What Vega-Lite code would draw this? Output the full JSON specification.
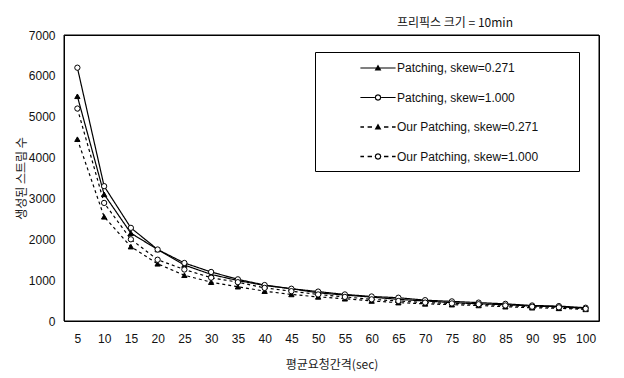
{
  "$schema": "https://vega.github.io/schema/vega-lite/v6.json",
  "width": 535,
  "height": 286,
  "autosize": "none",
  "padding": {"left": 64, "top": 35, "right": 25, "bottom": 57},
  "background": "white",
  "title": {
    "text": "프리픽스 크기 = 10min",
    "anchor": "end",
    "frame": "group",
    "dx": -86,
    "dy": 19,
    "offset": 13,
    "baseline": "middle",
    "font": "Noto Sans CJK KR",
    "fontSize": 12,
    "fontWeight": "normal",
    "color": "#111"
  },
  "config": {
    "view": {"stroke": "black", "strokeWidth": 1},
    "axis": {
      "labelFont": "Liberation Sans",
      "labelFontSize": 12,
      "labelColor": "#111",
      "titleFont": "Noto Sans CJK KR",
      "titleFontSize": 12,
      "titleFontWeight": "normal",
      "titleColor": "#222",
      "grid": false,
      "domain": false,
      "ticks": false
    }
  },
  "datasets": {
    "streams": [
      {"interval": 5, "series": "Patching, skew=0.271", "value": 5500},
      {"interval": 5, "series": "Patching, skew=1.000", "value": 6200},
      {"interval": 5, "series": "Our Patching, skew=0.271", "value": 4450},
      {"interval": 5, "series": "Our Patching, skew=1.000", "value": 5200},
      {"interval": 10, "series": "Patching, skew=0.271", "value": 3100},
      {"interval": 10, "series": "Patching, skew=1.000", "value": 3300},
      {"interval": 10, "series": "Our Patching, skew=0.271", "value": 2550},
      {"interval": 10, "series": "Our Patching, skew=1.000", "value": 2890},
      {"interval": 15, "series": "Patching, skew=0.271", "value": 2150},
      {"interval": 15, "series": "Patching, skew=1.000", "value": 2280},
      {"interval": 15, "series": "Our Patching, skew=0.271", "value": 1820},
      {"interval": 15, "series": "Our Patching, skew=1.000", "value": 2000},
      {"interval": 20, "series": "Patching, skew=0.271", "value": 1750},
      {"interval": 20, "series": "Patching, skew=1.000", "value": 1750},
      {"interval": 20, "series": "Our Patching, skew=0.271", "value": 1400},
      {"interval": 20, "series": "Our Patching, skew=1.000", "value": 1500},
      {"interval": 25, "series": "Patching, skew=0.271", "value": 1370},
      {"interval": 25, "series": "Patching, skew=1.000", "value": 1420},
      {"interval": 25, "series": "Our Patching, skew=0.271", "value": 1120},
      {"interval": 25, "series": "Our Patching, skew=1.000", "value": 1260},
      {"interval": 30, "series": "Patching, skew=0.271", "value": 1140},
      {"interval": 30, "series": "Patching, skew=1.000", "value": 1200},
      {"interval": 30, "series": "Our Patching, skew=0.271", "value": 950},
      {"interval": 30, "series": "Our Patching, skew=1.000", "value": 1060},
      {"interval": 35, "series": "Patching, skew=0.271", "value": 990},
      {"interval": 35, "series": "Patching, skew=1.000", "value": 1020},
      {"interval": 35, "series": "Our Patching, skew=0.271", "value": 840},
      {"interval": 35, "series": "Our Patching, skew=1.000", "value": 950},
      {"interval": 40, "series": "Patching, skew=0.271", "value": 870},
      {"interval": 40, "series": "Patching, skew=1.000", "value": 880},
      {"interval": 40, "series": "Our Patching, skew=0.271", "value": 730},
      {"interval": 40, "series": "Our Patching, skew=1.000", "value": 810},
      {"interval": 45, "series": "Patching, skew=0.271", "value": 790},
      {"interval": 45, "series": "Patching, skew=1.000", "value": 790},
      {"interval": 45, "series": "Our Patching, skew=0.271", "value": 650},
      {"interval": 45, "series": "Our Patching, skew=1.000", "value": 730},
      {"interval": 50, "series": "Patching, skew=0.271", "value": 690},
      {"interval": 50, "series": "Patching, skew=1.000", "value": 720},
      {"interval": 50, "series": "Our Patching, skew=0.271", "value": 590},
      {"interval": 50, "series": "Our Patching, skew=1.000", "value": 650},
      {"interval": 55, "series": "Patching, skew=0.271", "value": 635},
      {"interval": 55, "series": "Patching, skew=1.000", "value": 650},
      {"interval": 55, "series": "Our Patching, skew=0.271", "value": 545},
      {"interval": 55, "series": "Our Patching, skew=1.000", "value": 590},
      {"interval": 60, "series": "Patching, skew=0.271", "value": 585},
      {"interval": 60, "series": "Patching, skew=1.000", "value": 600},
      {"interval": 60, "series": "Our Patching, skew=0.271", "value": 490},
      {"interval": 60, "series": "Our Patching, skew=1.000", "value": 530},
      {"interval": 65, "series": "Patching, skew=0.271", "value": 530},
      {"interval": 65, "series": "Patching, skew=1.000", "value": 570},
      {"interval": 65, "series": "Our Patching, skew=0.271", "value": 450},
      {"interval": 65, "series": "Our Patching, skew=1.000", "value": 490},
      {"interval": 70, "series": "Patching, skew=0.271", "value": 490},
      {"interval": 70, "series": "Patching, skew=1.000", "value": 510},
      {"interval": 70, "series": "Our Patching, skew=0.271", "value": 420},
      {"interval": 70, "series": "Our Patching, skew=1.000", "value": 450},
      {"interval": 75, "series": "Patching, skew=0.271", "value": 450},
      {"interval": 75, "series": "Patching, skew=1.000", "value": 480},
      {"interval": 75, "series": "Our Patching, skew=0.271", "value": 400},
      {"interval": 75, "series": "Our Patching, skew=1.000", "value": 430},
      {"interval": 80, "series": "Patching, skew=0.271", "value": 420},
      {"interval": 80, "series": "Patching, skew=1.000", "value": 450},
      {"interval": 80, "series": "Our Patching, skew=0.271", "value": 380},
      {"interval": 80, "series": "Our Patching, skew=1.000", "value": 410},
      {"interval": 85, "series": "Patching, skew=0.271", "value": 400},
      {"interval": 85, "series": "Patching, skew=1.000", "value": 420},
      {"interval": 85, "series": "Our Patching, skew=0.271", "value": 350},
      {"interval": 85, "series": "Our Patching, skew=1.000", "value": 380},
      {"interval": 90, "series": "Patching, skew=0.271", "value": 365},
      {"interval": 90, "series": "Patching, skew=1.000", "value": 380},
      {"interval": 90, "series": "Our Patching, skew=0.271", "value": 325},
      {"interval": 90, "series": "Our Patching, skew=1.000", "value": 350},
      {"interval": 95, "series": "Patching, skew=0.271", "value": 350},
      {"interval": 95, "series": "Patching, skew=1.000", "value": 365},
      {"interval": 95, "series": "Our Patching, skew=0.271", "value": 310},
      {"interval": 95, "series": "Our Patching, skew=1.000", "value": 335},
      {"interval": 100, "series": "Patching, skew=0.271", "value": 310},
      {"interval": 100, "series": "Patching, skew=1.000", "value": 325},
      {"interval": 100, "series": "Our Patching, skew=0.271", "value": 285},
      {"interval": 100, "series": "Our Patching, skew=1.000", "value": 300}
    ]
  },
  "data": {"name": "streams"},
  "resolve": {"scale": {"shape": "independent", "fill": "independent"}},
  "layer": [
    {
      "data": {"values": [{"frame": "plot"}]},
      "mark": {"type": "rect", "filled": false, "stroke": "black", "strokeWidth": 1},
      "encoding": {}
    },
    {
      "mark": {"type": "line", "color": "black"},
      "encoding": {
        "x": {
          "field": "interval", "type": "ordinal",
          "scale": {"type": "point", "padding": 0.5},
          "axis": {"labelAngle": 0, "labelPadding": 12, "title": "평균요청간격(sec)", "titlePadding": 15}
        },
        "y": {
          "field": "value", "type": "quantitative",
          "scale": {"domain": [0, 7000], "nice": false},
          "axis": {"values": [0, 1000, 2000, 3000, 4000, 5000, 6000, 7000], "format": "d", "labelPadding": 9, "title": "생성된 스트림 수", "titlePadding": 0}
        },
        "detail": {"field": "series"},
        "strokeDash": {
          "field": "series", "type": "nominal", "legend": null,
          "scale": {
            "domain": ["Patching, skew=0.271", "Patching, skew=1.000", "Our Patching, skew=0.271", "Our Patching, skew=1.000"],
            "range": [[1, 0], [1, 0], [3, 3], [3, 3]]
          }
        },
        "strokeWidth": {
          "field": "series", "type": "nominal", "legend": null,
          "scale": {
            "domain": ["Patching, skew=0.271", "Patching, skew=1.000", "Our Patching, skew=0.271", "Our Patching, skew=1.000"],
            "range": [1.2, 1.2, 1.6, 1.6]
          }
        }
      }
    },
    {
      "mark": {"type": "point", "filled": true, "stroke": "black", "strokeWidth": 1, "size": 28, "opacity": 1},
      "encoding": {
        "x": {"field": "interval", "type": "ordinal"},
        "y": {"field": "value", "type": "quantitative"},
        "shape": {
          "field": "series", "type": "nominal", "legend": null,
          "scale": {
            "domain": ["Patching, skew=0.271", "Patching, skew=1.000", "Our Patching, skew=0.271", "Our Patching, skew=1.000"],
            "range": ["triangle-up", "circle", "triangle-up", "circle"]
          }
        },
        "fill": {
          "field": "series", "type": "nominal", "legend": null,
          "scale": {
            "domain": ["Patching, skew=0.271", "Patching, skew=1.000", "Our Patching, skew=0.271", "Our Patching, skew=1.000"],
            "range": ["black", "white", "black", "white"]
          }
        }
      }
    },
    {
      "mark": {"type": "point", "filled": true, "fill": "black", "strokeWidth": 0, "size": 256, "opacity": 0},
      "encoding": {
        "x": {"field": "interval", "type": "ordinal"},
        "y": {"field": "value", "type": "quantitative"},
        "shape": {
          "field": "series", "type": "nominal",
          "scale": {
            "domain": ["Patching, skew=0.271", "Patching, skew=1.000", "Our Patching, skew=0.271", "Our Patching, skew=1.000"],
            "range": [
              "M-2.2,-0.07H2.2V0.07H-2.2ZM0,-0.45L0.42,0.3H-0.42ZM24.1,0H24.11",
              "M-2.2,-0.07H-0.42V0.07H-2.2ZM0.42,-0.07H2.2V0.07H0.42ZM0.42,0L0.297,0.297L0,0.42L-0.297,0.297L-0.42,0L-0.297,-0.297L0,-0.42L0.297,-0.297ZM0.26,0L0.184,-0.184L0,-0.26L-0.184,-0.184L-0.26,0L-0.184,0.184L0,0.26L0.184,0.184ZM24.1,0H24.11",
              "M-2.2,-0.09H-1.75V0.09H-2.2ZM-1.3,-0.09H-0.75V0.09H-1.3ZM0.75,-0.09H1.3V0.09H0.75ZM1.75,-0.09H2.2V0.09H1.75ZM0,-0.45L0.42,0.3H-0.42ZM24.1,0H24.11",
              "M-2.2,-0.09H-1.75V0.09H-2.2ZM-1.3,-0.09H-0.75V0.09H-1.3ZM0.75,-0.09H1.3V0.09H0.75ZM1.75,-0.09H2.2V0.09H1.75ZM0.42,0L0.297,0.297L0,0.42L-0.297,0.297L-0.42,0L-0.297,-0.297L0,-0.42L0.297,-0.297ZM0.26,0L0.184,-0.184L0,-0.26L-0.184,-0.184L-0.26,0L-0.184,0.184L0,0.26L0.184,0.184ZM24.1,0H24.11"
            ]
          },
          "legend": {
            "orient": "none",
            "legendX": 251,
            "legendY": 17,
            "title": null,
            "strokeColor": "black",
            "fillColor": "white",
            "padding": 8,
            "symbolSize": 256,
            "symbolOpacity": 1,
            "symbolFillColor": "black",
            "symbolStrokeWidth": 0,
            "symbolOffset": 47,
            "labelOffset": 11,
            "rowPadding": 15.5,
            "labelFont": "Liberation Sans",
            "labelFontSize": 12,
            "labelColor": "#111",
            "labelLimit": 0
          }
        }
      }
    }
  ]
}
